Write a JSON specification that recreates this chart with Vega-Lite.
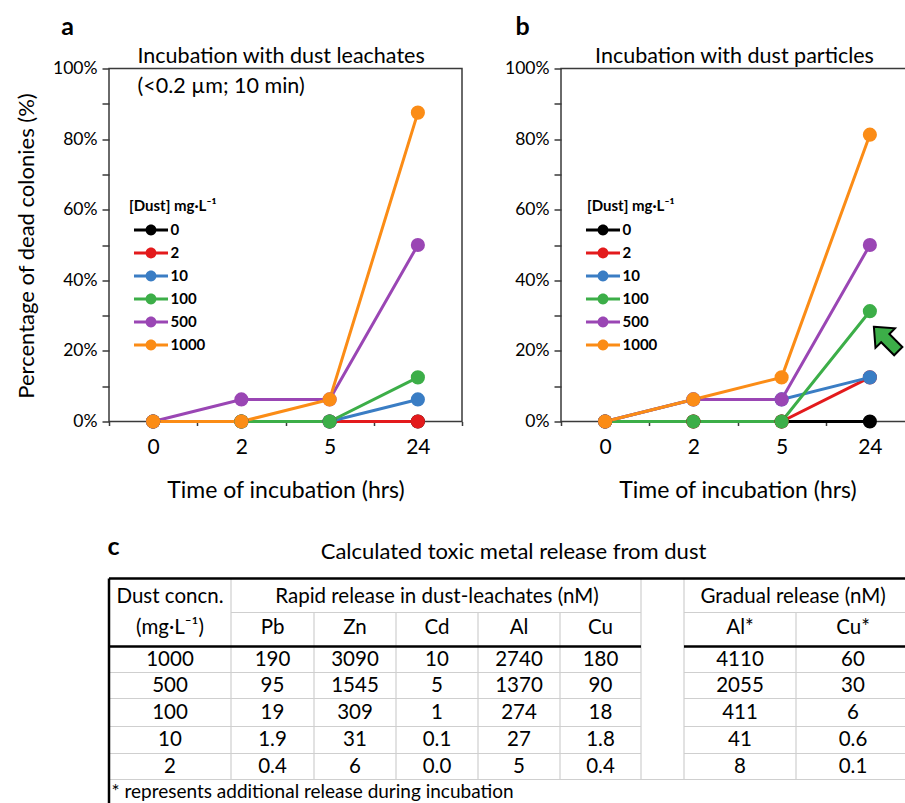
{
  "$schema": "https://vega.github.io/schema/vega-lite/v6.json",
  "padding": {"left": 14, "top": 13.5, "right": 0, "bottom": 0},
  "background": "white",
  "bounds": "flush",
  "spacing": 510,
  "config": {
    "font": "Lato",
    "view": {"stroke": "#3a3a3a", "strokeWidth": 1.5},
    "axis": {"labelColor": "#000", "titleColor": "#000", "tickColor": "#3a3a3a", "domainColor": "#3a3a3a", "grid": false, "labelFont": "Lato", "titleFont": "Lato", "titleFontWeight": "normal", "tickWidth": 1.5},
    "legend": {"titleFont": "Lato", "labelFont": "Lato"},
    "text": {"font": "Lato"}
  },
  "datasets": {
    "leach": [
      {"dust": 0, "time": 0, "pct": 0}, {"dust": 0, "time": 2, "pct": 0}, {"dust": 0, "time": 5, "pct": 0}, {"dust": 0, "time": 24, "pct": 0},
      {"dust": 2, "time": 0, "pct": 0}, {"dust": 2, "time": 2, "pct": 0}, {"dust": 2, "time": 5, "pct": 0}, {"dust": 2, "time": 24, "pct": 0},
      {"dust": 10, "time": 0, "pct": 0}, {"dust": 10, "time": 2, "pct": 0}, {"dust": 10, "time": 5, "pct": 0}, {"dust": 10, "time": 24, "pct": 6.25},
      {"dust": 100, "time": 0, "pct": 0}, {"dust": 100, "time": 2, "pct": 0}, {"dust": 100, "time": 5, "pct": 0}, {"dust": 100, "time": 24, "pct": 12.5},
      {"dust": 500, "time": 0, "pct": 0}, {"dust": 500, "time": 2, "pct": 6.25}, {"dust": 500, "time": 5, "pct": 6.25}, {"dust": 500, "time": 24, "pct": 50},
      {"dust": 1000, "time": 0, "pct": 0}, {"dust": 1000, "time": 2, "pct": 0}, {"dust": 1000, "time": 5, "pct": 6.25}, {"dust": 1000, "time": 24, "pct": 87.5}
    ],
    "part": [
      {"dust": 0, "time": 0, "pct": 0}, {"dust": 0, "time": 2, "pct": 0}, {"dust": 0, "time": 5, "pct": 0}, {"dust": 0, "time": 24, "pct": 0},
      {"dust": 2, "time": 0, "pct": 0}, {"dust": 2, "time": 2, "pct": 0}, {"dust": 2, "time": 5, "pct": 0}, {"dust": 2, "time": 24, "pct": 12.5},
      {"dust": 10, "time": 0, "pct": 0}, {"dust": 10, "time": 2, "pct": 6.25}, {"dust": 10, "time": 5, "pct": 6.25}, {"dust": 10, "time": 24, "pct": 12.5},
      {"dust": 100, "time": 0, "pct": 0}, {"dust": 100, "time": 2, "pct": 0}, {"dust": 100, "time": 5, "pct": 0}, {"dust": 100, "time": 24, "pct": 31.25},
      {"dust": 500, "time": 0, "pct": 0}, {"dust": 500, "time": 2, "pct": 6.25}, {"dust": 500, "time": 5, "pct": 6.25}, {"dust": 500, "time": 24, "pct": 50},
      {"dust": 1000, "time": 0, "pct": 0}, {"dust": 1000, "time": 2, "pct": 6.25}, {"dust": 1000, "time": 5, "pct": 12.5}, {"dust": 1000, "time": 24, "pct": 81.25}
    ],
    "cells": [
      {"r": 0, "c": 0, "t": "Dust concn."}, {"r": 0, "c": 3, "t": "Rapid release in dust-leachates (nM)"}, {"r": 0, "c": 7.47, "t": "Gradual release (nM)"},
      {"r": 1, "c": 0, "t": "(mg·L⁻¹)"}, {"r": 1, "c": 1, "t": "Pb"}, {"r": 1, "c": 2, "t": "Zn"}, {"r": 1, "c": 3, "t": "Cd"}, {"r": 1, "c": 4, "t": "Al"}, {"r": 1, "c": 5, "t": "Cu"}, {"r": 1, "c": 7, "t": "Al*"}, {"r": 1, "c": 8, "t": "Cu*"},
      {"r": 2, "c": 0, "t": "1000"}, {"r": 2, "c": 1, "t": "190"}, {"r": 2, "c": 2, "t": "3090"}, {"r": 2, "c": 3, "t": "10"}, {"r": 2, "c": 4, "t": "2740"}, {"r": 2, "c": 5, "t": "180"}, {"r": 2, "c": 7, "t": "4110"}, {"r": 2, "c": 8, "t": "60"},
      {"r": 3, "c": 0, "t": "500"}, {"r": 3, "c": 1, "t": "95"}, {"r": 3, "c": 2, "t": "1545"}, {"r": 3, "c": 3, "t": "5"}, {"r": 3, "c": 4, "t": "1370"}, {"r": 3, "c": 5, "t": "90"}, {"r": 3, "c": 7, "t": "2055"}, {"r": 3, "c": 8, "t": "30"},
      {"r": 4, "c": 0, "t": "100"}, {"r": 4, "c": 1, "t": "19"}, {"r": 4, "c": 2, "t": "309"}, {"r": 4, "c": 3, "t": "1"}, {"r": 4, "c": 4, "t": "274"}, {"r": 4, "c": 5, "t": "18"}, {"r": 4, "c": 7, "t": "411"}, {"r": 4, "c": 8, "t": "6"},
      {"r": 5, "c": 0, "t": "10"}, {"r": 5, "c": 1, "t": "1.9"}, {"r": 5, "c": 2, "t": "31"}, {"r": 5, "c": 3, "t": "0.1"}, {"r": 5, "c": 4, "t": "27"}, {"r": 5, "c": 5, "t": "1.8"}, {"r": 5, "c": 7, "t": "41"}, {"r": 5, "c": 8, "t": "0.6"},
      {"r": 6, "c": 0, "t": "2"}, {"r": 6, "c": 1, "t": "0.4"}, {"r": 6, "c": 2, "t": "6"}, {"r": 6, "c": 3, "t": "0.0"}, {"r": 6, "c": 4, "t": "5"}, {"r": 6, "c": 5, "t": "0.4"}, {"r": 6, "c": 7, "t": "8"}, {"r": 6, "c": 8, "t": "0.1"}
    ],
    "thin": [
      {"c0": 1, "c1": 6, "r0": 1, "r1": 1}, {"c0": 7, "c1": 9, "r0": 1, "r1": 1},
      {"c0": 0, "c1": 6, "r0": 3, "r1": 3}, {"c0": 7, "c1": 9, "r0": 3, "r1": 3},
      {"c0": 0, "c1": 6, "r0": 4, "r1": 4}, {"c0": 7, "c1": 9, "r0": 4, "r1": 4},
      {"c0": 0, "c1": 6, "r0": 5, "r1": 5}, {"c0": 7, "c1": 9, "r0": 5, "r1": 5},
      {"c0": 0, "c1": 6, "r0": 6, "r1": 6}, {"c0": 7, "c1": 9, "r0": 6, "r1": 6},
      {"c0": 0, "c1": 9, "r0": 7, "r1": 7},
      {"c0": 1, "c1": 1, "r0": 0, "r1": 7}, {"c0": 2, "c1": 2, "r0": 1, "r1": 7}, {"c0": 3, "c1": 3, "r0": 1, "r1": 7},
      {"c0": 4, "c1": 4, "r0": 1, "r1": 7}, {"c0": 5, "c1": 5, "r0": 1, "r1": 7}, {"c0": 6, "c1": 6, "r0": 0, "r1": 7},
      {"c0": 7, "c1": 7, "r0": 0, "r1": 7}, {"c0": 8, "c1": 8, "r0": 1, "r1": 7}
    ],
    "thick": [
      {"c0": 0, "c1": 9, "r0": 0, "r1": 0}, {"c0": 0, "c1": 0, "r0": 0, "r1": 8},
      {"c0": 0, "c1": 6, "r0": 2, "r1": 2}, {"c0": 7, "c1": 9, "r0": 2, "r1": 2}
    ]
  },
  "vconcat": [
    {
      "hconcat": [
        {
          "width": 353, "height": 353,
          "data": {"name": "leach"},
          "resolve": {"axis": {"x": "independent", "y": "independent"}},
          "layer": [
            {
              "mark": {"type": "line", "strokeWidth": 3},
              "encoding": {
                "x": {"field": "time", "type": "ordinal", "scale": {"type": "band", "domain": [0, 2, 5, 24], "paddingInner": 0, "paddingOuter": 0},
                      "axis": {"orient": "bottom", "title": "Time of incubation (hrs)", "domain": false, "tickBand": "extent", "tickSize": 4, "labelPadding": 11, "labelFontSize": 21, "labelAngle": 0, "titleFontSize": 23, "titleY": 69, "titleBaseline": "middle"}},
                "y": {"field": "pct", "type": "quantitative", "scale": {"domain": [0, 100], "nice": false},
                      "axis": {"orient": "left", "title": "Percentage of dead colonies (%)", "domain": false, "values": [0, 10, 20, 30, 40, 50, 60, 70, 80, 90, 100], "labelExpr": "datum.value % 20 === 0 ? datum.value + '%' : ''", "labelOverlap": false, "tickSize": 7, "labelPadding": 5, "labelFontSize": 17.5, "titleFontSize": 22, "titleAngle": 270, "titleX": -83, "titleY": 177, "titleBaseline": "middle", "titleAlign": "center"}},
                "color": {"field": "dust", "type": "nominal", "scale": {"domain": [0, 2, 10, 100, 500, 1000], "range": ["#000000", "#e31a1c", "#3a7dc4", "#3cae48", "#9a46b4", "#fb8c16"]}}
              }
            },
            {
              "mark": {"type": "point", "filled": true, "opacity": 1, "size": 200},
              "encoding": {
                "x": {"field": "time", "type": "ordinal",
                      "axis": {"orient": "top", "title": ["Incubation with dust leachates", "(<0.2 µm; 10 min)"], "labels": false, "ticks": false, "domain": false, "titleX": 28, "titleY": -6, "titleAlign": "left", "titleBaseline": "alphabetic", "titleFontSize": 21.5, "titleLineHeight": 30}},
                "y": {"field": "pct", "type": "quantitative",
                      "axis": {"orient": "right", "title": "a", "labels": false, "ticks": false, "domain": false, "titleAngle": 0, "titleX": -395, "titleY": -42, "titleAlign": "center", "titleBaseline": "middle", "titleFontSize": 25, "titleFontWeight": "bold"}},
                "color": {"field": "dust", "type": "nominal",
                          "legend": {"title": "[Dust] mg·L⁻¹", "orient": "none", "legendX": 20, "legendY": 130, "padding": 0, "titleFontSize": 15, "titleFontWeight": "bold", "titleColor": "#000", "titlePadding": 6, "labelFontSize": 15, "labelFontWeight": "bold", "labelColor": "#000", "symbolType": "M-1.62,-0.14H-0.45V0.14H-1.62Z M0.45,-0.14H1.62V0.14H0.45Z M0.52,0A0.52,0.52,0,1,1,-0.52,0A0.52,0.52,0,1,1,0.52,0Z", "symbolSize": 441, "symbolStrokeWidth": 0, "symbolOffset": 11.5, "labelOffset": 9, "rowPadding": 4, "symbolOpacity": 1}}
              }
            }
          ]
        },
        {
          "width": 353, "height": 353,
          "data": {"name": "part"},
          "resolve": {"axis": {"x": "independent", "y": "independent"}},
          "layer": [
            {
              "mark": {"type": "line", "strokeWidth": 3},
              "encoding": {
                "x": {"field": "time", "type": "ordinal", "scale": {"type": "band", "domain": [0, 2, 5, 24], "paddingInner": 0, "paddingOuter": 0},
                      "axis": {"orient": "bottom", "title": "Time of incubation (hrs)", "domain": false, "tickBand": "extent", "tickSize": 4, "labelPadding": 11, "labelFontSize": 21, "labelAngle": 0, "titleFontSize": 23, "titleY": 69, "titleBaseline": "middle"}},
                "y": {"field": "pct", "type": "quantitative", "scale": {"domain": [0, 100], "nice": false},
                      "axis": {"orient": "left", "title": "b", "domain": false, "values": [0, 10, 20, 30, 40, 50, 60, 70, 80, 90, 100], "labelExpr": "datum.value % 20 === 0 ? datum.value + '%' : ''", "labelOverlap": false, "tickSize": 7, "labelPadding": 5, "labelFontSize": 17.5, "titleFontSize": 25, "titleFontWeight": "bold", "titleAngle": 0, "titleX": -39, "titleY": -42, "titleBaseline": "middle", "titleAlign": "center"}},
                "color": {"field": "dust", "type": "nominal", "scale": {"domain": [0, 2, 10, 100, 500, 1000], "range": ["#000000", "#e31a1c", "#3a7dc4", "#3cae48", "#9a46b4", "#fb8c16"]}}
              }
            },
            {
              "mark": {"type": "point", "filled": true, "opacity": 1, "size": 200},
              "encoding": {
                "x": {"field": "time", "type": "ordinal",
                      "axis": {"orient": "top", "title": "Incubation with dust particles", "labels": false, "ticks": false, "domain": false, "titleX": 173, "titleY": -6, "titleAlign": "center", "titleBaseline": "alphabetic", "titleFontSize": 21.5}},
                "y": {"field": "pct", "type": "quantitative", "axis": null},
                "color": {"field": "dust", "type": "nominal",
                          "legend": {"title": "[Dust] mg·L⁻¹", "orient": "none", "legendX": 26, "legendY": 130, "padding": 0, "titleFontSize": 15, "titleFontWeight": "bold", "titleColor": "#000", "titlePadding": 6, "labelFontSize": 15, "labelFontWeight": "bold", "labelColor": "#000", "symbolType": "M-1.62,-0.14H-0.45V0.14H-1.62Z M0.45,-0.14H1.62V0.14H0.45Z M0.52,0A0.52,0.52,0,1,1,-0.52,0A0.52,0.52,0,1,1,0.52,0Z", "symbolSize": 441, "symbolStrokeWidth": 0, "symbolOffset": 5.5, "labelOffset": 9, "rowPadding": 4, "symbolOpacity": 1}}
              }
            },
            {
              "data": {"values": [{"note": "arrow"}]},
              "mark": {"type": "point", "shape": "M4,-6.5L25.1,-4.9L19.5,0.8L32.5,13.8L24.3,22L11.3,9L5.6,14.6Z", "size": 4, "filled": true, "fill": "#3cae48", "stroke": "#000", "strokeWidth": 2, "opacity": 1},
              "encoding": {
                "x": {"datum": 24, "type": "ordinal", "axis": null},
                "y": {"datum": 25, "type": "quantitative", "axis": null}
              }
            }
          ]
        }
      ],
      "spacing": 99,
      "bounds": "flush",
      "resolve": {"scale": {"color": "independent"}, "legend": {"color": "independent"}}
    },
    {
      "width": 801, "height": 225,
      "view": {"stroke": null},
      "resolve": {"scale": {"x": "independent", "y": "independent"}, "axis": {"x": "independent", "y": "independent"}},
      "layer": [
        {
          "data": {"name": "cells"},
          "mark": {"type": "text", "fontSize": 20.5, "font": "Lato", "color": "#000"},
          "encoding": {
            "x": {"field": "c", "type": "quantitative", "scale": {"domain": [0, 1, 2, 3, 4, 5, 6, 7, 8], "range": [61, 163.5, 246, 328, 410, 491.5, 553.5, 631, 744], "nice": false, "zero": false},
                  "axis": {"orient": "top", "title": "c", "labels": false, "ticks": false, "domain": false, "titleX": 4, "titleY": -32, "titleAlign": "center", "titleBaseline": "middle", "titleFontSize": 25, "titleFontWeight": "bold"}},
            "y": {"field": "r", "type": "quantitative", "scale": {"domain": [0, 1, 2, 3, 4, 5, 6, 7], "range": [18.5, 49, 81, 107, 134, 161.5, 188, 214.5], "nice": false, "zero": false},
                  "axis": {"orient": "left", "title": "* represents additional release during incubation", "labels": false, "ticks": false, "domain": false, "titleAngle": 0, "titleX": 2, "titleY": 213, "titleAlign": "left", "titleBaseline": "middle", "titleFontSize": 19}},
            "text": {"field": "t"}
          }
        },
        {
          "data": {"name": "thin"},
          "mark": {"type": "rule", "stroke": "#cfcfcf", "strokeWidth": 1.2},
          "encoding": {
            "x": {"field": "c0", "type": "quantitative", "scale": {"domain": [0, 1, 2, 3, 4, 5, 6, 7, 8, 9], "range": [0, 122, 205, 287, 369, 451, 532, 575, 687, 801], "nice": false, "zero": false},
                  "axis": {"orient": "top", "title": "Calculated toxic metal release from dust", "labels": false, "ticks": false, "domain": false, "titleX": 404, "titleY": -20, "titleAlign": "center", "titleBaseline": "alphabetic", "titleFontSize": 22}},
            "x2": {"field": "c1"},
            "y": {"field": "r0", "type": "quantitative", "scale": {"domain": [0, 1, 2, 3, 4, 5, 6, 7, 8], "range": [0, 34, 68, 94, 120, 148, 175, 201, 225], "nice": false, "zero": false}, "axis": null},
            "y2": {"field": "r1"}
          }
        },
        {
          "data": {"name": "thick"},
          "mark": {"type": "rule", "stroke": "#000", "strokeWidth": 2.5},
          "encoding": {
            "x": {"field": "c0", "type": "quantitative", "scale": {"domain": [0, 1, 2, 3, 4, 5, 6, 7, 8, 9], "range": [0, 122, 205, 287, 369, 451, 532, 575, 687, 801], "nice": false, "zero": false}, "axis": null},
            "x2": {"field": "c1"},
            "y": {"field": "r0", "type": "quantitative", "scale": {"domain": [0, 1, 2, 3, 4, 5, 6, 7, 8], "range": [0, 34, 68, 94, 120, 148, 175, 201, 225], "nice": false, "zero": false}, "axis": null},
            "y2": {"field": "r1"}
          }
        }
      ]
    }
  ]
}
